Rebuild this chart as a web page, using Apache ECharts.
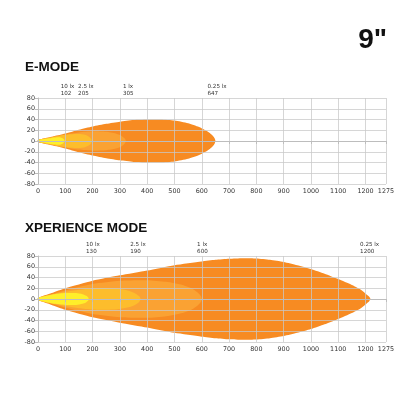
<!DOCTYPE html>
<html>
<head>
<meta charset="utf-8">
<script src="https://cdn.jsdelivr.net/npm/echarts@6/dist/echarts.min.js"></script>
<style>
  html, body { margin: 0; padding: 0; background: #fff; }
  #chart { width: 416px; height: 416px; }
</style>
</head>
<body>
<div id="chart"></div>
<script>
// beam zones, outermost first: [distance m, half width m]
const zoneColors = ['#F78B22', '#FAA233', '#FDBD2C', '#FFEF2A']

const eOuter = [[0, 2], [50, 8], [100, 14], [150, 21], [200, 27], [250, 32], [300, 36], [350, 39], [400, 40], [450, 40], [500, 38], [550, 33], [590, 26], [620, 18], [638, 11], [647, 5], [650, 0]]
const eOneLx = [[0, 2], [50, 7], [100, 12], [150, 16], [200, 18], [250, 17], [285, 14], [305, 10], [317, 5], [322, 0]]
const eTwoHalfLx = [[0, 2], [40, 6], [80, 10], [120, 12.5], [150, 13], [172, 11.5], [187, 8], [195, 4], [197, 0]]
const eTenLx = [[0, 1.5], [30, 4], [60, 6.5], [80, 7], [90, 5], [96, 2.5], [98, 0]]

const xOuter = [[0, 2], [50, 11], [100, 20], [200, 34], [300, 44], [400, 53], [500, 63], [600, 70], [650, 73], [700, 75], [750, 76], [800, 75.5], [850, 73], [900, 69], [950, 63], [1000, 56], [1050, 47], [1100, 37], [1150, 26], [1180, 18], [1200, 10], [1212, 5], [1218, 0]]
const xOneLx = [[0, 2], [50, 9], [100, 16], [200, 28], [300, 34], [400, 35], [470, 32], [530, 26], [565, 19], [587, 11], [597, 5], [600, 0]]
const xTwoHalfLx = [[0, 2], [50, 8], [100, 13], [150, 17], [200, 19.5], [250, 20], [300, 18.5], [335, 15], [358, 10], [371, 5], [376, 0]]
const xTenLx = [[0, 2], [30, 6], [60, 9], [100, 11], [140, 11], [163, 9], [177, 6], [184, 3], [186, 0]]

// labels above the plots
const luxNames = ['10 lx', '2.5 lx', '1 lx', '0.25 lx']
const eDistances = [102, 205, 305, 647]
const eLabelAt = [83, 147, 311, 621]
const xDistances = [130, 190, 600, 1200]
const xLabelAt = [176, 338, 583, 1180]

const eZones = [eOuter, eOneLx, eTwoHalfLx, eTenLx]
const xZones = [xOuter, xOneLx, xTwoHalfLx, xTenLx]

const font = 'DejaVu Sans, sans-serif'
const gridColor = 'rgba(200,200,200,0.75)'
const axisColor = '#bdbdbd'

function beamSeries(zones, idx) {
  return {
    type: 'custom',
    xAxisIndex: idx,
    yAxisIndex: idx,
    silent: true,
    data: zones.map((z, i) => [i, 0]),
    renderItem(params, api) {
      const c = zones[params.dataIndex]
      const upper = c.map((p) => api.coord([p[0], p[1]]))
      const lower = c.slice(0, -1).reverse().map((p) => api.coord([p[0], -p[1]]))
      return {
        type: 'polygon',
        shape: { points: upper.concat(lower), smooth: 0.2 },
        style: { fill: zoneColors[params.dataIndex] },
      }
    },
  }
}

function labelSeries(at, dist, idx) {
  return {
    type: 'custom',
    xAxisIndex: idx,
    yAxisIndex: idx,
    silent: true,
    data: at.map((a) => [a, 80]),
    renderItem(params, api) {
      const pt = api.coord([api.value(0), 80])
      return {
        type: 'text',
        x: pt[0],
        y: pt[1] - 1.5,
        style: {
          text: luxNames[params.dataIndex] + '\n' + dist[params.dataIndex],
          font: '5.6px ' + font,
          fill: '#333',
          lineHeight: 6.4,
          align: 'left',
          verticalAlign: 'bottom',
        },
      }
    },
  }
}

function xAxis(idx) {
  return {
    type: 'value',
    gridIndex: idx,
    min: 0,
    max: 1275,
    interval: 100,
    z: 10,
    axisLine: { show: true, lineStyle: { color: axisColor } },
    axisTick: { show: true, length: 3, lineStyle: { color: axisColor } },
    axisLabel: { fontSize: 6.4, fontFamily: font, color: '#333', margin: 4, showMaxLabel: true, formatter: (v) => String(v) },
    splitLine: { show: true, lineStyle: { color: gridColor, width: 1 } },
  }
}

function yAxis(idx) {
  return {
    type: 'value',
    gridIndex: idx,
    min: -80,
    max: 80,
    interval: 20,
    z: 10,
    axisLine: { show: true, onZero: false, lineStyle: { color: axisColor } },
    axisTick: { show: true, length: 3, lineStyle: { color: axisColor } },
    axisLabel: { fontSize: 6.4, fontFamily: font, color: '#333', margin: 3 },
    splitLine: { show: true, lineStyle: { color: gridColor, width: 1 } },
  }
}

const chart = echarts.init(document.getElementById('chart'))
chart.setOption({
  animation: false,
  backgroundColor: '#fff',
  grid: [
    { left: 38, right: 30, top: 98, height: 86 },
    { left: 38, right: 30, top: 256, height: 86 },
  ],
  xAxis: [xAxis(0), xAxis(1)],
  yAxis: [yAxis(0), yAxis(1)],
  graphic: [
    { type: 'text', right: 29, top: 26, style: { text: '9"', font: 'bold 28px Liberation Sans, Arial, sans-serif', fill: '#111' } },
    { type: 'text', left: 25, top: 60, style: { text: 'E-MODE', font: 'bold 13.5px Liberation Sans, Arial, sans-serif', fill: '#111' } },
    { type: 'text', left: 25, top: 221, style: { text: 'XPERIENCE MODE', font: 'bold 13.5px Liberation Sans, Arial, sans-serif', fill: '#111' } },
  ],
  series: [
    beamSeries(eZones, 0),
    beamSeries(xZones, 1),
    labelSeries(eLabelAt, eDistances, 0),
    labelSeries(xLabelAt, xDistances, 1),
  ],
})
</script>
</body>
</html>
